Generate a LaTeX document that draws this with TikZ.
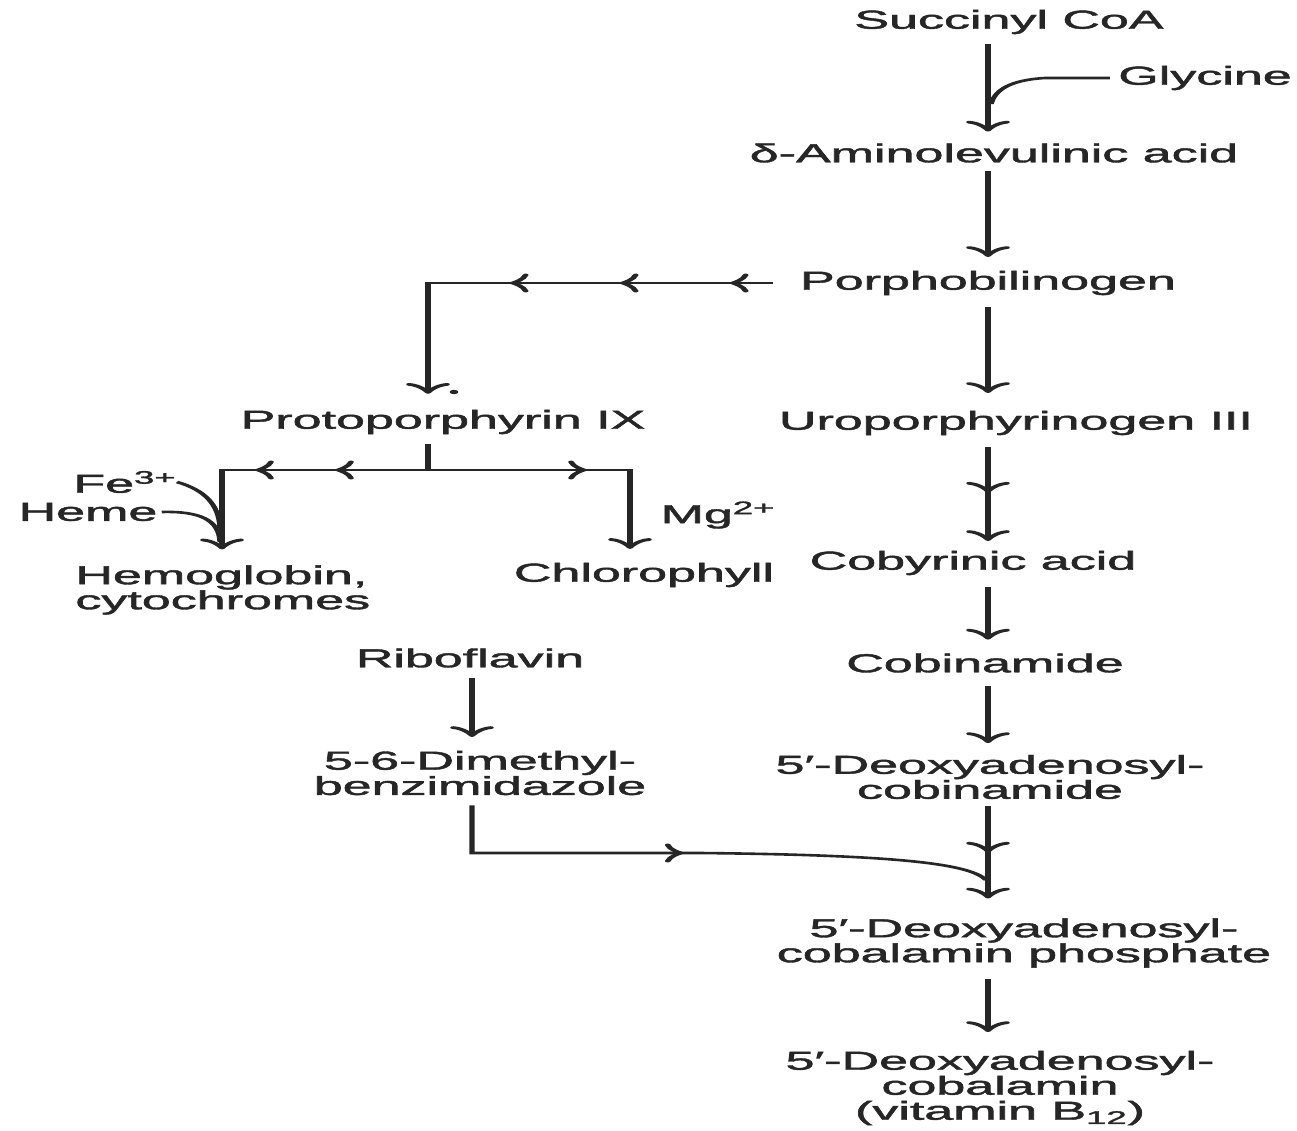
\documentclass[tikz,border=0pt]{standalone}
\usepackage{fontspec}
\setmainfont[FakeBold=1.4]{Liberation Sans}
\usetikzlibrary{decorations.markings,calc}
\newcommand{\vtipdraw}{\draw[tipl] (-8pt,9.5pt) .. controls (-7pt,4pt) and (-1.5pt,0.8pt) .. (0pt,0pt) .. controls (-1.5pt,-0.8pt) and (-7pt,-4pt) .. (-8pt,-9.5pt);}
\newcommand{\htipdraw}{\draw[tipl] (-6.5pt,8pt) .. controls (-5.5pt,3.5pt) and (-1.2pt,0.8pt) .. (0pt,0pt) .. controls (-1.2pt,-0.8pt) and (-5.5pt,-3.5pt) .. (-6.5pt,-8pt);}
\begin{document}
\begin{tikzpicture}[x=1pt,y=-1pt]
\useasboundingbox[fill=white] (0,0) rectangle (1297,1131);
\begin{scope}[x=0.5pt, y=-1pt, transform canvas={xscale=2},
  lbl/.style={inner sep=0pt, font=\fontsize{26}{25}\selectfont, align=center, text=black!85},
  ln/.style={line width=2.6pt, draw=black!85},
  tipl/.style={line width=2.8pt, draw=black!85, line cap=round, line join=round},
  vt/.style={postaction={decorate, decoration={markings, mark=at position #1 with {\vtipdraw}}}},
  ht/.style={postaction={decorate, decoration={markings, mark=at position #1 with {\htipdraw}}}},
  hts/.style args={#1 step #2 to #3}{postaction={decorate, decoration={markings, mark=between positions #1 and #3 step #2 with {\htipdraw}}}},
  va/.style={ln, vt=0.999}
]
% nodes
\node[lbl] (succ) at (1009,22) {Succinyl CoA};
\node[lbl] (gly) at (1205,78) {Glycine};
\node[lbl] (ala) at (994,153) {δ-Aminolevulinic acid};
\node[lbl] (pbg) at (988,283) {Porphobilinogen};
\node[lbl] (uro) at (1016,423) {Uroporphyrinogen III};
\node[lbl] (cob) at (973,563) {Cobyrinic acid};
\node[lbl] (cbn) at (985,663) {Cobinamide};
\node[lbl] (dac) at (990,777) {5′-Deoxyadenosyl-\\cobinamide};
\node[lbl] (dacp) at (1024,943) {5′-Deoxyadenosyl-\\cobalamin phosphate};
\node[lbl] (b12) at (1000,1088) {5′-Deoxyadenosyl-\\cobalamin\\(vitamin B\textsubscript{12})};
\node[lbl] (proto) at (443,422) {Protoporphyrin IX};
\node[lbl] (fe) at (125,482) {Fe\textsuperscript{3+}};
\node[lbl] (heme) at (88,512) {Heme};
\node[lbl] (mg) at (718,515) {Mg\textsuperscript{2+}};
\node[lbl, align=left, anchor=west] (hemo) at (75,590) {Hemoglobin,\\cytochromes};
\node[lbl] (chl) at (644,575) {Chlorophyll};
\node[lbl] (ribo) at (470,658) {Riboflavin};
\node[lbl, font=\fontsize{26}{21}\selectfont] (dmb) at (480,773) {5-6-Dimethyl-\\benzimidazole};

% coordinates
\coordinate (mx) at (988,0);
\coordinate (gj) at (991,104);
\coordinate (gc) at (1045,78);
\coordinate (c1) at (428,283);
\coordinate (j1) at (428,470);
\coordinate (jl) at (222,470);
\coordinate (jr) at (630,470);
\coordinate (rx) at (472,0);
\coordinate (d1) at (472,853);
\coordinate (d2) at (700,853);
\coordinate (dj) at (986,880);

% main column
\draw[va] ($(succ.south -| mx)+(0,10)$) -- ($(ala.north -| mx)+(0,-13)$);
\draw[ln] ([xshift=-4pt]gly.west) -- (gc) .. controls (1010,80) and (995,90) .. (gj);
\draw[va] ($(ala.south -| mx)+(0,8)$) -- ($(pbg.north -| mx)+(0,-15)$);
\draw[va] ($(pbg.south -| mx)+(0,12)$) -- ($(uro.north -| mx)+(0,-19)$);
\draw[va, vt=44pt] ($(uro.south -| mx)+(0,12)$) -- ($(cob.north -| mx)+(0,-11)$);
\draw[va] ($(cob.south -| mx)+(0,12)$) -- ($(cbn.north -| mx)+(0,-15)$);
\draw[va] ($(cbn.south -| mx)+(0,13)$) -- ($(dac.north -| mx)+(0,-13)$);
\draw[va, vt=45pt] ($(dac.south -| mx)+(0,7)$) -- ($(dacp.north -| mx)+(0,-21)$);
\draw[va] ($(dacp.south -| mx)+(0,11)$) -- ($(b12.north -| mx)+(0,-20)$);

% porphobilinogen to protoporphyrin
\draw[ln, vt=0.999, hts=20pt step 55pt to 131pt] ([xshift=-13.5pt]pbg.west) -- (c1) -- ($(proto.north -| c1)+(0,-17)$);
\fill[black!85] (454,392) circle (2.2pt);

% protoporphyrin branches
\draw[ln] ($(proto.south -| j1)+(0,10)$) -- (j1);
\draw[ln, vt=0.999, hts=45pt step 40pt to 86pt] (j1) -- (jl) -- ($(hemo.north -| jl)+(0,-17)$);
\draw[ln, vt=0.999, ht=78pt] (j1) -- (jr) -- ($(chl.north -| jr)+(0,-15)$);
\draw[ln] (fe.east) .. controls (205,490) and (219,505) .. (220,528);
\draw[ln] ([xshift=2pt]heme.east) .. controls (200,511) and (219,520) .. (220,542);

% riboflavin branch
\draw[ln, vt=0.999] ($(ribo.south -| rx)+(0,10)$) -- ($(dmb.north -| rx)+(0,-15)$);
\draw[ln, ht=152pt] ($(dmb.south -| d1)+(0,10)$) -- (d1) -- (d2) .. controls (900,855) and (970,864) .. (dj);
\end{scope}
\end{tikzpicture}
\end{document}
